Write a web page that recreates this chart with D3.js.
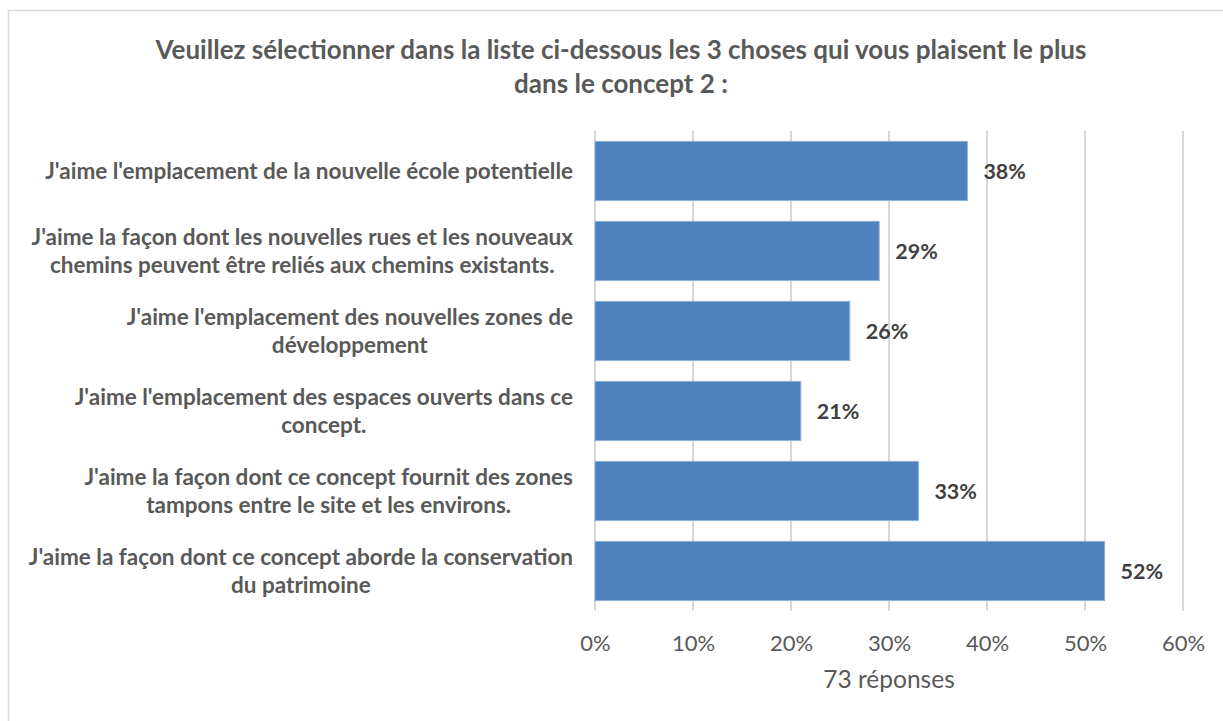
<!DOCTYPE html>
<html>
<head>
<meta charset="utf-8">
<script src="https://cdn.jsdelivr.net/npm/d3@7/dist/d3.min.js"></script>
<style>
  html, body { margin: 0; padding: 0; background: #fff; }
  svg { display: block; font-family: Lato, "Open Sans", sans-serif; }
</style>
</head>
<body>
<svg id="chart" width="1223" height="721"></svg>
<script>
const titleLines = ["Veuillez sélectionner dans la liste ci-dessous les 3 choses qui vous plaisent le plus", "dans le concept 2 :"];
const categories = [
  ["J'aime l'emplacement de la nouvelle école potentielle"],
  ["J'aime la façon dont les nouvelles rues et les nouveaux", "chemins peuvent être reliés aux chemins existants."],
  ["J'aime l'emplacement des nouvelles zones de", "développement"],
  ["J'aime l'emplacement des espaces ouverts dans ce", "concept."],
  ["J'aime la façon dont ce concept fournit des zones", "tampons entre le site et les environs."],
  ["J'aime la façon dont ce concept aborde la conservation", "du patrimoine"]
];
const values = [0.38, 0.29, 0.26, 0.21, 0.33, 0.52];
const tickValues = [0, 0.1, 0.2, 0.3, 0.4, 0.5, 0.6];
const axisTitle = "73 réponses";

const svg = d3.select("#chart");
const W = 1223, H = 721;

// outer border
svg.append("rect").attr("x", 8.5).attr("y", 10.5).attr("width", W + 10).attr("height", H + 10)
  .attr("fill", "none").attr("stroke", "#d9d9d9").attr("stroke-width", 1.5);

// title
svg.append("text").attr("x", 621).attr("y", 59).attr("text-anchor", "middle")
  .attr("fill", "#595959").attr("font-weight", "bold").attr("font-size", 26)
  .selectAll("tspan").data(titleLines).join("tspan")
  .attr("x", 621).attr("dy", (d, i) => i === 0 ? 0 : 33.5).text(d => d);

const x = d3.scaleLinear().domain([0, 0.6]).range([595, 1183]);
const idx = categories.map((d, i) => i);
const y = d3.scaleBand().domain(idx).range([131, 611]).paddingInner(0.26).paddingOuter(0.13);

// gridlines
svg.append("g").selectAll("line").data(tickValues).join("line")
  .attr("x1", d => x(d)).attr("x2", d => x(d))
  .attr("y1", 131).attr("y2", 611)
  .attr("stroke", "#d9d9d9").attr("stroke-width", 2);

// axis tick labels
const xAxis = d3.axisBottom(x).tickValues(tickValues).tickFormat(d3.format(".0%")).tickSize(0).tickPadding(0);
const gx = svg.append("g").attr("transform", "translate(0,651)").call(xAxis);
gx.select(".domain").remove();
gx.selectAll("text").attr("font-size", 22).attr("fill", "#595959")
  .attr("font-family", "Lato, 'Open Sans', sans-serif").attr("dy", 0).attr("y", 0);

svg.append("text").attr("x", x(0.3)).attr("y", 688).attr("text-anchor", "middle")
  .attr("font-size", 24.5).attr("fill", "#595959").text(axisTitle);

// bars
svg.append("g").selectAll("rect").data(values).join("rect")
  .attr("x", x(0)).attr("y", (d, i) => y(i))
  .attr("width", d => x(d) - x(0)).attr("height", y.bandwidth())
  .attr("fill", "#4f81bd").attr("stroke", "#8eb0dc").attr("stroke-width", 1);

// value labels
svg.append("g").selectAll("text").data(values).join("text")
  .attr("x", d => x(d) + 16).attr("y", (d, i) => y(i) + y.bandwidth() / 2 + 8)
  .attr("font-size", 21.5).attr("font-weight", "bold").attr("fill", "#404040")
  .text(d => d3.format(".0%")(d));

// category labels (block right-aligned, lines centered)
const labelRight = 573;
categories.forEach((lines, i) => {
  const cy = y(i) + y.bandwidth() / 2;
  const lh = 28;
  const t = svg.append("text").attr("text-anchor", "middle")
    .attr("font-size", 22.5).attr("font-weight", "bold").attr("fill", "#595959");
  const y0 = cy - (lines.length - 1) * lh / 2 + 8;
  const tsp = t.selectAll("tspan").data(lines).join("tspan")
    .attr("y", (d, j) => y0 + j * lh).text(d => d);
  let maxW = 0;
  tsp.each(function() { maxW = Math.max(maxW, this.getComputedTextLength()); });
  tsp.attr("x", labelRight - maxW / 2);
});
</script>
</body>
</html>
